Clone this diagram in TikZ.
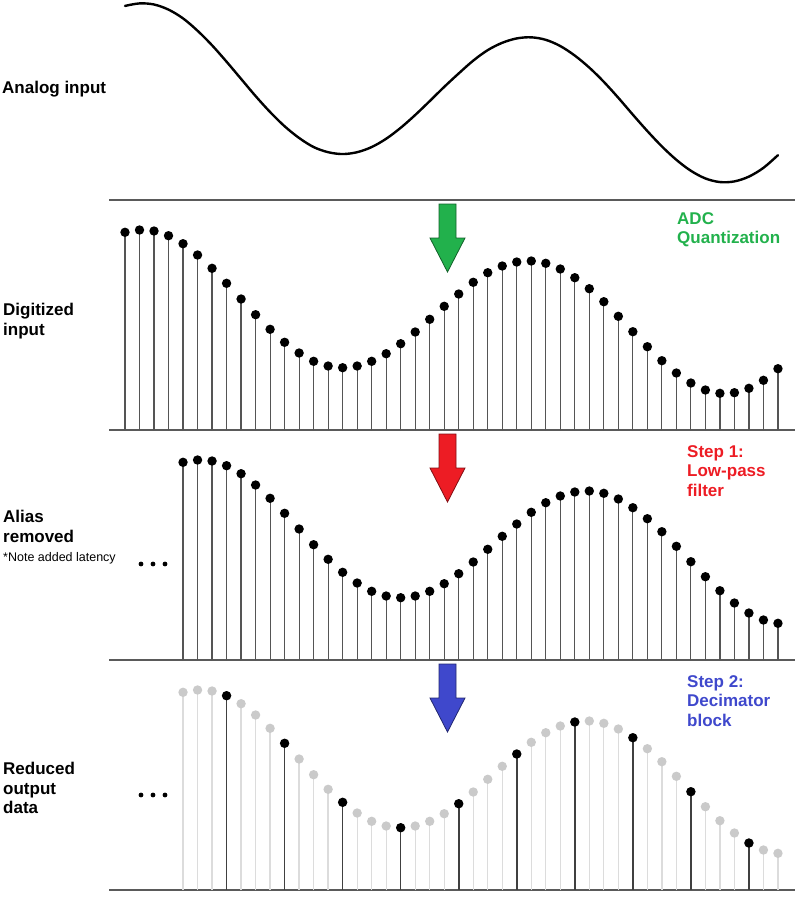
\documentclass[tikz,border=0pt]{standalone}
\usepackage{fontspec}
\setmainfont{Liberation Sans}

\definecolor{adcgreen}{HTML}{22B14C}
\definecolor{lpred}{HTML}{ED1C24}
\definecolor{decblue}{HTML}{3F48CC}
\definecolor{stemgray}{HTML}{555555}
\definecolor{ghoststem}{HTML}{DCDCDC}
\definecolor{ghostfill}{HTML}{CACACA}
\definecolor{axisgray}{HTML}{5A5A5A}

% sample heights of the digitized signal (px above the axis)
\def\sampleh{197.7,200,199,194.3,186.3,175,161.7,146.7,131,115.3,100.7,87.7,77,68.7,64,62.3,64,68.7,76.3,86.3,98,110.7,123.7,136,147.7,157.3,164,168,169,166.7,161,152.3,141.3,128.3,113.7,98.3,83.3,69.3,57,47,40,36.7,37.3,41.7,49.7,61.3}

\begin{document}
\begin{tikzpicture}[x=1pt, y=-1pt,
  rowlabel/.style={anchor=north west, inner sep=0pt, align=left, font=\bfseries\fontsize{17}{19.5}\selectfont},
  steplabel/.style={rowlabel},
  notelabel/.style={anchor=north west, inner sep=0pt, font=\fontsize{12.5}{14}\selectfont},
  axisline/.style={draw=axisgray, line width=1.6pt},
  stem/.style={draw=stemgray, line width=1.2pt},
  keptstem/.style={draw=black!75, line width=1.6pt},
  faintstem/.style={draw=ghoststem, line width=1.3pt},
  analog/.style={line width=2.4pt, line join=round, line cap=round}
]
\useasboundingbox (0,0) rectangle (800,898);

% panel axes
\foreach \ya in {200,430,660,890}
  \draw[axisline] (109,\ya) -- (795,\ya);

% analog input
\def\analogpath{}
\foreach \h [count=\k] in \sampleh {
  \pgfmathsetmacro\ax{125+(\k-1)*14.51}
  \pgfmathsetmacro\ay{222.2-1.094*\h}
  \xdef\analogpath{\analogpath (\ax,\ay)}
}
\edef\drawanalog{\noexpand\draw[analog] plot[smooth, tension=0.55] coordinates {\analogpath};}
\drawanalog

% digitized input
\foreach \h [count=\k] in \sampleh {
  \draw[stem] ({125+(\k-1)*14.51},430) -- ++(0,-\h);
  \fill ({125+(\k-1)*14.51},{430-\h}) circle (4.7);
}

% alias removed (delayed by four samples)
\foreach \h [count=\k] in \sampleh {
  \ifnum\k<43
    \draw[stem] ({125+(\k+3)*14.51},660) -- ++(0,-\h);
    \fill ({125+(\k+3)*14.51},{660-\h}) circle (4.7);
  \fi
}

% reduced output: every fourth sample kept
\foreach \h [count=\k] in \sampleh {
  \ifnum\k<43
    \draw[faintstem] ({125+(\k+3)*14.51},890) -- ++(0,-\h);
    \fill[ghostfill] ({125+(\k+3)*14.51},{890-\h}) circle (4.7);
  \fi
}
\foreach \h [count=\k] in \sampleh {
  \pgfmathtruncatemacro\r{mod(\k,4)}
  \ifnum\k<43 \ifnum\r=0
    \draw[keptstem] ({125+(\k+3)*14.51},890) -- ++(0,-\h);
    \fill ({125+(\k+3)*14.51},{890-\h}) circle (4.7);
  \fi\fi
}

% block arrows
\foreach \ay/\col in {204/adcgreen, 434/lpred, 664/decblue}
  \filldraw[fill=\col, draw=\col!55!black, line width=0.8pt, line join=miter]
    (439,\ay) -- (456,\ay) -- (456,{\ay+34}) -- (465,{\ay+34})
    -- (447.5,{\ay+68}) -- (430,{\ay+34}) -- (439,{\ay+34}) -- cycle;

% ellipses before the delayed data
\foreach \yd in {564,795}
  \foreach \xd in {141,153,165}
    \fill (\xd,\yd) circle (2.4);

% labels
\node[rowlabel] (analoglbl) at (2,81) {Analog input};
\node[rowlabel] (digitlbl) at (3,303) {Digitized\\input};
\node[rowlabel] (aliaslbl) at (3,510) {Alias\\removed};
\node[notelabel] (latency) at (3,552) {*Note added latency};
\node[rowlabel] (reducedlbl) at (3,762) {Reduced\\output\\data};
\node[steplabel, text=adcgreen] (adc) at (677,212) {ADC\\Quantization};
\node[steplabel, text=lpred] (lowpass) at (687,445) {Step 1:\\Low-pass\\filter};
\node[steplabel, text=decblue] (decim) at (687,675) {Step 2:\\Decimator\\block};
\end{tikzpicture}
\end{document}
